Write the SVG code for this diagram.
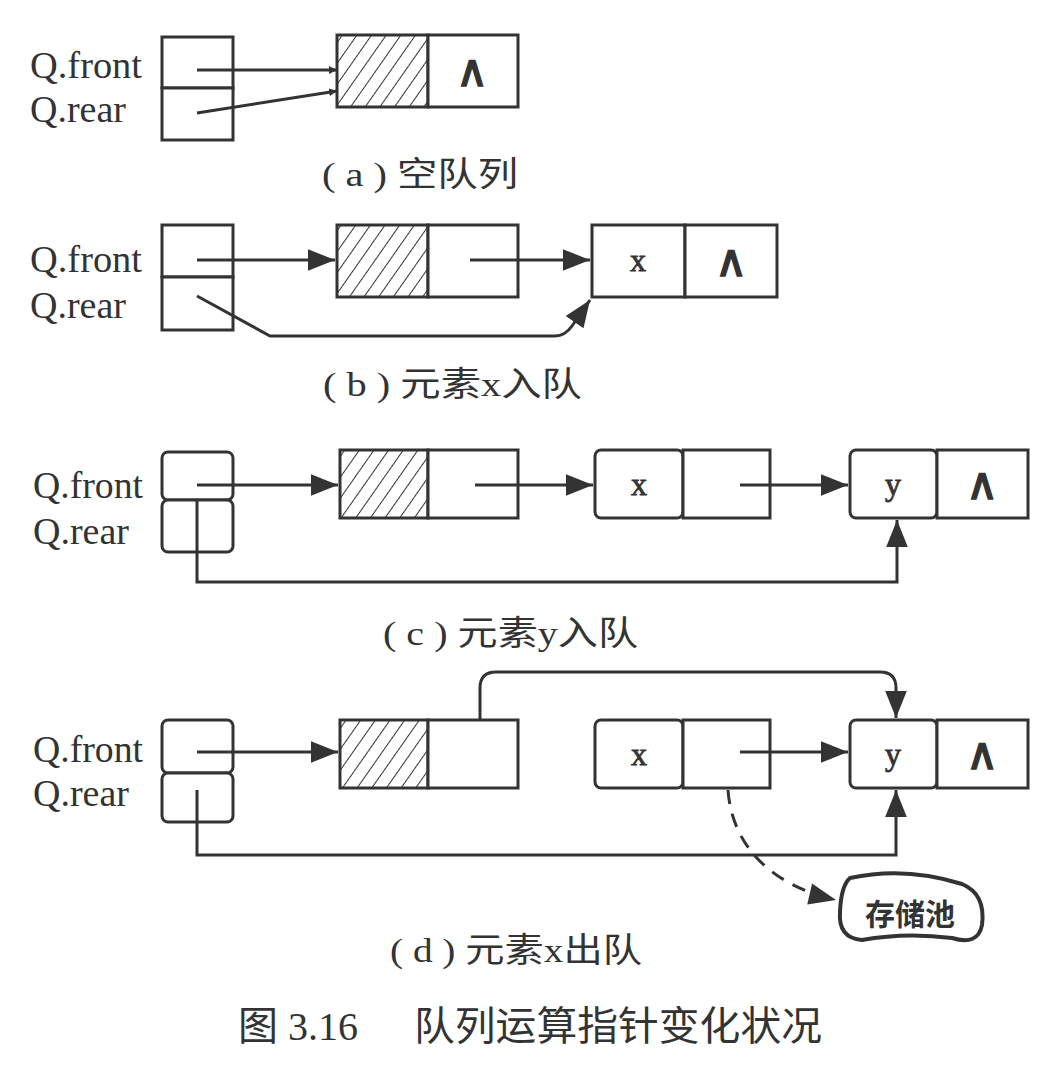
<svg xmlns="http://www.w3.org/2000/svg" width="1050" height="1081" viewBox="0 0 1050 1081">
<defs>
<pattern id="hatch" width="12" height="12" patternUnits="userSpaceOnUse" patternTransform="rotate(35)">
<line x1="0" y1="0" x2="0" y2="12" stroke="#333" stroke-width="2"/>
</pattern>
<marker id="arr" viewBox="0 0 10 10" refX="10" refY="5" markerWidth="8" markerHeight="8" markerUnits="userSpaceOnUse" orient="auto">
<path d="M0,0 L10,5 L0,10 Z" fill="#333"/>
</marker>
<marker id="arrB" viewBox="0 0 10 10" refX="10" refY="5" markerWidth="10" markerHeight="9" orient="auto">
<path d="M0,1 L10,5 L0,9 Z" fill="#333"/>
</marker>
</defs>
<style>
.box{fill:#fff;stroke:#333;stroke-width:3}
.hat{fill:url(#hatch);stroke:#333;stroke-width:3}
.ln{fill:none;stroke:#333;stroke-width:3}
.lbl{font-family:"Liberation Serif",serif;font-size:38px;fill:#333}
.cell{font-family:"Liberation Serif",serif;font-size:32px;fill:#333;stroke:#333;stroke-width:0.8;text-anchor:middle}
.nil{font-family:"DejaVu Sans",sans-serif;font-size:44px;fill:#333;stroke:#333;stroke-width:1.6;text-anchor:middle}
.cap{font-family:"Liberation Serif","Noto Sans CJK SC",serif;font-size:34px;fill:#333}
.title{font-family:"Liberation Serif","Noto Sans CJK SC",serif;font-size:40px;fill:#333}
</style>
<rect width="1050" height="1081" fill="#fff"/>

<!-- Panel a -->
<g id="a-labels">
<text class="lbl" x="30" y="78" textLength="112" lengthAdjust="spacingAndGlyphs">Q.front</text>
<text class="lbl" x="30" y="122" textLength="96" lengthAdjust="spacingAndGlyphs">Q.rear</text>
</g>
<g id="a-ptr">
<rect class="box" x="162" y="37" width="71" height="51"/>
<rect class="box" x="162" y="88" width="71" height="52"/>
</g>
<g id="a-head">
<rect class="hat" x="337" y="35" width="91" height="72"/>
<rect class="box" x="428" y="35" width="90" height="72"/>
<text class="nil" x="472" y="86">∧</text>
</g>
<g id="a-edges">
<line class="ln" x1="197" y1="70" x2="337" y2="70" marker-end="url(#arr)"/>
<line class="ln" x1="197" y1="113" x2="337" y2="91" marker-end="url(#arr)"/>
</g>
<text class="cap" x="322" y="186" textLength="196" lengthAdjust="spacingAndGlyphs">( a ) 空队列</text>

<!-- Panel b -->
<g id="b-labels">
<text class="lbl" x="30" y="272" textLength="112" lengthAdjust="spacingAndGlyphs">Q.front</text>
<text class="lbl" x="30" y="318" textLength="96" lengthAdjust="spacingAndGlyphs">Q.rear</text>
</g>
<g id="b-ptr">
<rect class="box" x="162" y="225" width="71" height="52"/>
<rect class="box" x="162" y="277" width="71" height="53"/>
</g>
<g id="b-head">
<rect class="hat" x="337" y="225" width="91" height="72"/>
<rect class="box" x="428" y="225" width="90" height="72"/>
</g>
<g id="b-x">
<rect class="box" x="592" y="225" width="93" height="72"/>
<rect class="box" x="685" y="225" width="92" height="72"/>
<text class="cell" x="638" y="271">x</text>
<text class="nil" x="731" y="276">∧</text>
</g>
<g id="b-edges">
<line class="ln" x1="197" y1="260" x2="335" y2="260" marker-end="url(#arrB)"/>
<line class="ln" x1="470" y1="260" x2="590" y2="260" marker-end="url(#arrB)"/>
<path class="ln" d="M197,296 L270,336 L555,336 Q565,336 572,326 L590,300" marker-end="url(#arrB)"/>
</g>
<text class="cap" x="323" y="396" textLength="259" lengthAdjust="spacingAndGlyphs">( b ) 元素x入队</text>

<!-- Panel c -->
<g id="c-labels">
<text class="lbl" x="33" y="498" textLength="110" lengthAdjust="spacingAndGlyphs">Q.front</text>
<text class="lbl" x="33" y="544" textLength="96" lengthAdjust="spacingAndGlyphs">Q.rear</text>
</g>
<g id="c-ptr">
<rect class="box" x="162" y="452" width="71" height="48" rx="6"/>
<rect class="box" x="162" y="500" width="71" height="52" rx="6"/>
</g>
<g id="c-head">
<rect class="hat" x="340" y="450" width="88" height="68"/>
<rect class="box" x="428" y="450" width="90" height="68"/>
</g>
<g id="c-x">
<rect class="box" x="595" y="450" width="88" height="68" rx="6"/>
<rect class="box" x="683" y="450" width="87" height="68"/>
<text class="cell" x="639" y="495">x</text>
</g>
<g id="c-y">
<rect class="box" x="850" y="450" width="87" height="68" rx="6"/>
<rect class="box" x="937" y="450" width="91" height="68"/>
<text class="cell" x="893" y="495">y</text>
<text class="nil" x="982" y="499">∧</text>
</g>
<g id="c-edges">
<line class="ln" x1="197" y1="485" x2="338" y2="485" marker-end="url(#arrB)"/>
<line class="ln" x1="475" y1="485" x2="593" y2="485" marker-end="url(#arrB)"/>
<line class="ln" x1="740" y1="485" x2="848" y2="485" marker-end="url(#arrB)"/>
<path class="ln" d="M197,500 L197,582 L897,582 L897,520" marker-end="url(#arrB)"/>
</g>
<text class="cap" x="383" y="645" textLength="255" lengthAdjust="spacingAndGlyphs">( c ) 元素y入队</text>

<!-- Panel d -->
<g id="d-labels">
<text class="lbl" x="33" y="762" textLength="110" lengthAdjust="spacingAndGlyphs">Q.front</text>
<text class="lbl" x="33" y="806" textLength="96" lengthAdjust="spacingAndGlyphs">Q.rear</text>
</g>
<g id="d-ptr">
<rect class="box" x="162" y="720" width="71" height="53" rx="6"/>
<rect class="box" x="162" y="773" width="71" height="49" rx="6"/>
</g>
<g id="d-head">
<rect class="hat" x="340" y="720" width="88" height="68"/>
<rect class="box" x="428" y="720" width="90" height="68"/>
</g>
<g id="d-x">
<rect class="box" x="595" y="720" width="88" height="68" rx="6"/>
<rect class="box" x="683" y="720" width="87" height="68"/>
<text class="cell" x="639" y="765">x</text>
</g>
<g id="d-y">
<rect class="box" x="850" y="720" width="87" height="68" rx="6"/>
<rect class="box" x="937" y="720" width="91" height="68"/>
<text class="cell" x="893" y="765">y</text>
<text class="nil" x="982" y="769">∧</text>
</g>
<g id="d-pool">
<path d="M850,878 Q905,866 962,884 Q986,894 982,925 Q978,946 952,938 Q905,932 862,940 Q838,938 840,912 Q841,886 850,878 Z" fill="#fff" stroke="#333" stroke-width="4"/>
<text x="910" y="925" font-family="Noto Sans CJK SC, sans-serif" font-size="30" font-weight="bold" fill="#333" text-anchor="middle">存储池</text>
</g>
<g id="d-edges">
<line class="ln" x1="197" y1="752" x2="338" y2="752" marker-end="url(#arrB)"/>
<path class="ln" d="M480,720 L480,688 Q480,672 496,672 L880,672 Q896,672 896,688 L896,718" marker-end="url(#arrB)"/>
<line class="ln" x1="740" y1="752" x2="848" y2="752" marker-end="url(#arrB)"/>
<path class="ln" d="M197,790 L197,855 L896,855 L896,790" marker-end="url(#arrB)"/>
<path class="ln" d="M728,790 C732,845 770,885 836,900" stroke-dasharray="14,10" marker-end="url(#arrB)"/>
</g>
<text class="cap" x="390" y="962" textLength="252" lengthAdjust="spacingAndGlyphs">( d ) 元素x出队</text>

<g id="title">
<text class="title" x="238" y="1040">图 3.16</text>
<text class="title" x="414" y="1040" textLength="408" lengthAdjust="spacingAndGlyphs">队列运算指针变化状况</text>
</g>
</svg>
